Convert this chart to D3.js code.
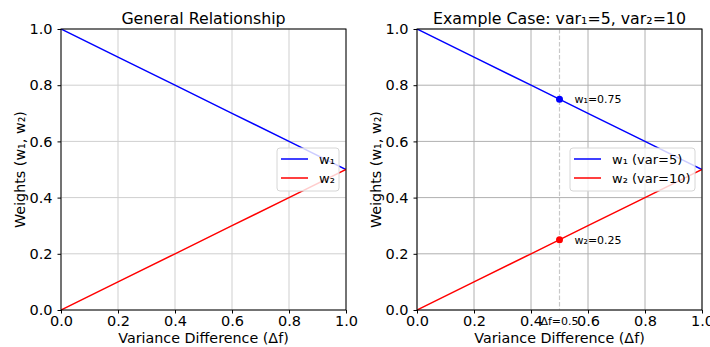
<!DOCTYPE html>
<html><head><meta charset="utf-8">
<script src="https://cdn.jsdelivr.net/npm/d3@7"></script>
<style>body{margin:0;background:#fff}text{font-family:"DejaVu Sans",sans-serif;fill:#000}</style>
</head><body><svg id="c" width="710" height="347"></svg>
<script>
const deltaF = [0, 0.2, 0.4, 0.6, 0.8, 1.0];
const w1 = [1.0, 0.9, 0.8, 0.7, 0.6, 0.5];
const w2 = [0.0, 0.1, 0.2, 0.3, 0.4, 0.5];
const xTicks = [0, 0.2, 0.4, 0.6, 0.8, 1.0];
const yTicks = [0, 0.2, 0.4, 0.6, 0.8, 1.0];
const titles = ["General Relationship", "Example Case: var\u2081=5, var\u2082=10"];
const legendLeft = ["w\u2081", "w\u2082"];
const legendRight = ["w\u2081 (var=5)", "w\u2082 (var=10)"];
const examplePoint = {df: 0.5, w1: 0.75, w2: 0.25};

const svg = d3.select("#c");
const panels = [{x0: 61, x1: 346, grid: "#cfcfcf", legend: legendLeft, lx: 277, lw: 62, example: false},
                {x0: 417, x1: 702, grid: "#b0b0b0", legend: legendRight, lx: 570, lw: 125, example: true}];
const yTop = 29, yBot = 310;

panels.forEach((p, pi) => {
  const x = d3.scaleLinear().domain([0, 1]).range([p.x0, p.x1]);
  const y = d3.scaleLinear().domain([0, 1]).range([yBot, yTop]);
  const g = svg.append("g");
  g.selectAll(".gx").data(xTicks).join("line").attr("x1", d => x(d)).attr("x2", d => x(d))
    .attr("y1", yTop).attr("y2", yBot).attr("stroke", p.grid).attr("stroke-width", 1);
  g.selectAll(".gy").data(yTicks).join("line").attr("y1", d => y(d)).attr("y2", d => y(d))
    .attr("x1", p.x0).attr("x2", p.x1).attr("stroke", p.grid).attr("stroke-width", 1);
  if (p.example) {
    g.append("line").attr("x1", x(examplePoint.df)).attr("x2", x(examplePoint.df)).attr("y1", yTop).attr("y2", yBot)
      .attr("stroke", "#c8c8c8").attr("stroke-width", 1.2).attr("stroke-dasharray", "4.5,2");
  }
  const line = d3.line().x((d, i) => x(deltaF[i])).y(d => y(d));
  const clipId = "clip" + pi;
  svg.append("clipPath").attr("id", clipId).append("rect").attr("x", p.x0).attr("y", yTop).attr("width", p.x1 - p.x0).attr("height", yBot - yTop);
  g.append("path").datum(w1).attr("d", line).attr("fill", "none").attr("stroke", "#0000ff").attr("stroke-width", 1.5).attr("clip-path", `url(#${clipId})`);
  g.append("path").datum(w2).attr("d", line).attr("fill", "none").attr("stroke", "#ff0000").attr("stroke-width", 1.5).attr("clip-path", `url(#${clipId})`);
  if (p.example) {
    g.append("circle").attr("cx", x(examplePoint.df)).attr("cy", y(examplePoint.w1)).attr("r", 3.5).attr("fill", "#0000ff");
    g.append("circle").attr("cx", x(examplePoint.df)).attr("cy", y(examplePoint.w2)).attr("r", 3.5).attr("fill", "#ff0000");
    g.append("text").attr("x", x(examplePoint.df) + 15).attr("y", y(examplePoint.w1) + 4).attr("font-size", 11).text("w\u2081=" + examplePoint.w1);
    g.append("text").attr("x", x(examplePoint.df) + 15).attr("y", y(examplePoint.w2) + 4).attr("font-size", 11).text("w\u2082=" + examplePoint.w2);
    g.append("text").attr("x", x(examplePoint.df)).attr("y", yBot + 15).attr("text-anchor", "middle").attr("font-size", 11).text("\u0394f=" + examplePoint.df);
  }
  const lg = g.append("g");
  lg.append("rect").attr("x", p.lx).attr("y", 148).attr("width", p.lw).attr("height", 43).attr("rx", 3)
    .attr("fill", "#fff").attr("fill-opacity", 0.8).attr("stroke", "#d6d6d6").attr("stroke-width", 1);
  ["#0000ff", "#ff0000"].forEach((c, i) => {
    lg.append("line").attr("x1", p.lx + 4).attr("x2", p.lx + 31).attr("y1", 159 + i * 19).attr("y2", 159 + i * 19).attr("stroke", c).attr("stroke-width", 1.5);
    lg.append("text").attr("x", p.lx + 42).attr("y", 164 + i * 19).attr("font-size", 13).text(p.legend[i]);
  });
  g.append("rect").attr("x", p.x0).attr("y", yTop).attr("width", p.x1 - p.x0).attr("height", yBot - yTop)
    .attr("fill", "none").attr("stroke", "#000").attr("stroke-width", 1);
  const ax = g.append("g").attr("transform", `translate(0,${yBot})`)
    .call(d3.axisBottom(x).tickValues(xTicks).tickFormat(d3.format(".1f")).tickSizeOuter(0).tickSize(3.5).tickPadding(2));
  const ay = g.append("g").attr("transform", `translate(${p.x0},0)`)
    .call(d3.axisLeft(y).tickValues(yTicks).tickFormat(d3.format(".1f")).tickSizeOuter(0).tickSize(3.5).tickPadding(5));
  [ax, ay].forEach(a => { a.select(".domain").remove(); a.selectAll("text").attr("font-size", 14.5).attr("font-family", "DejaVu Sans").attr("fill", "#000"); a.selectAll("line").attr("stroke", "#000"); });
  g.append("text").attr("x", (p.x0 + p.x1) / 2).attr("y", 24).attr("text-anchor", "middle").attr("font-size", 15.8).text(titles[pi]);
  g.append("text").attr("x", (p.x0 + p.x1) / 2).attr("y", 343).attr("text-anchor", "middle").attr("font-size", 14.3).text("Variance Difference (\u0394f)");
  g.append("text").attr("transform", `translate(${p.x0 - 36},${(yTop + yBot) / 2}) rotate(-90)`).attr("text-anchor", "middle").attr("font-size", 14.3).text("Weights (w\u2081, w\u2082)");
});
</script></body></html>
